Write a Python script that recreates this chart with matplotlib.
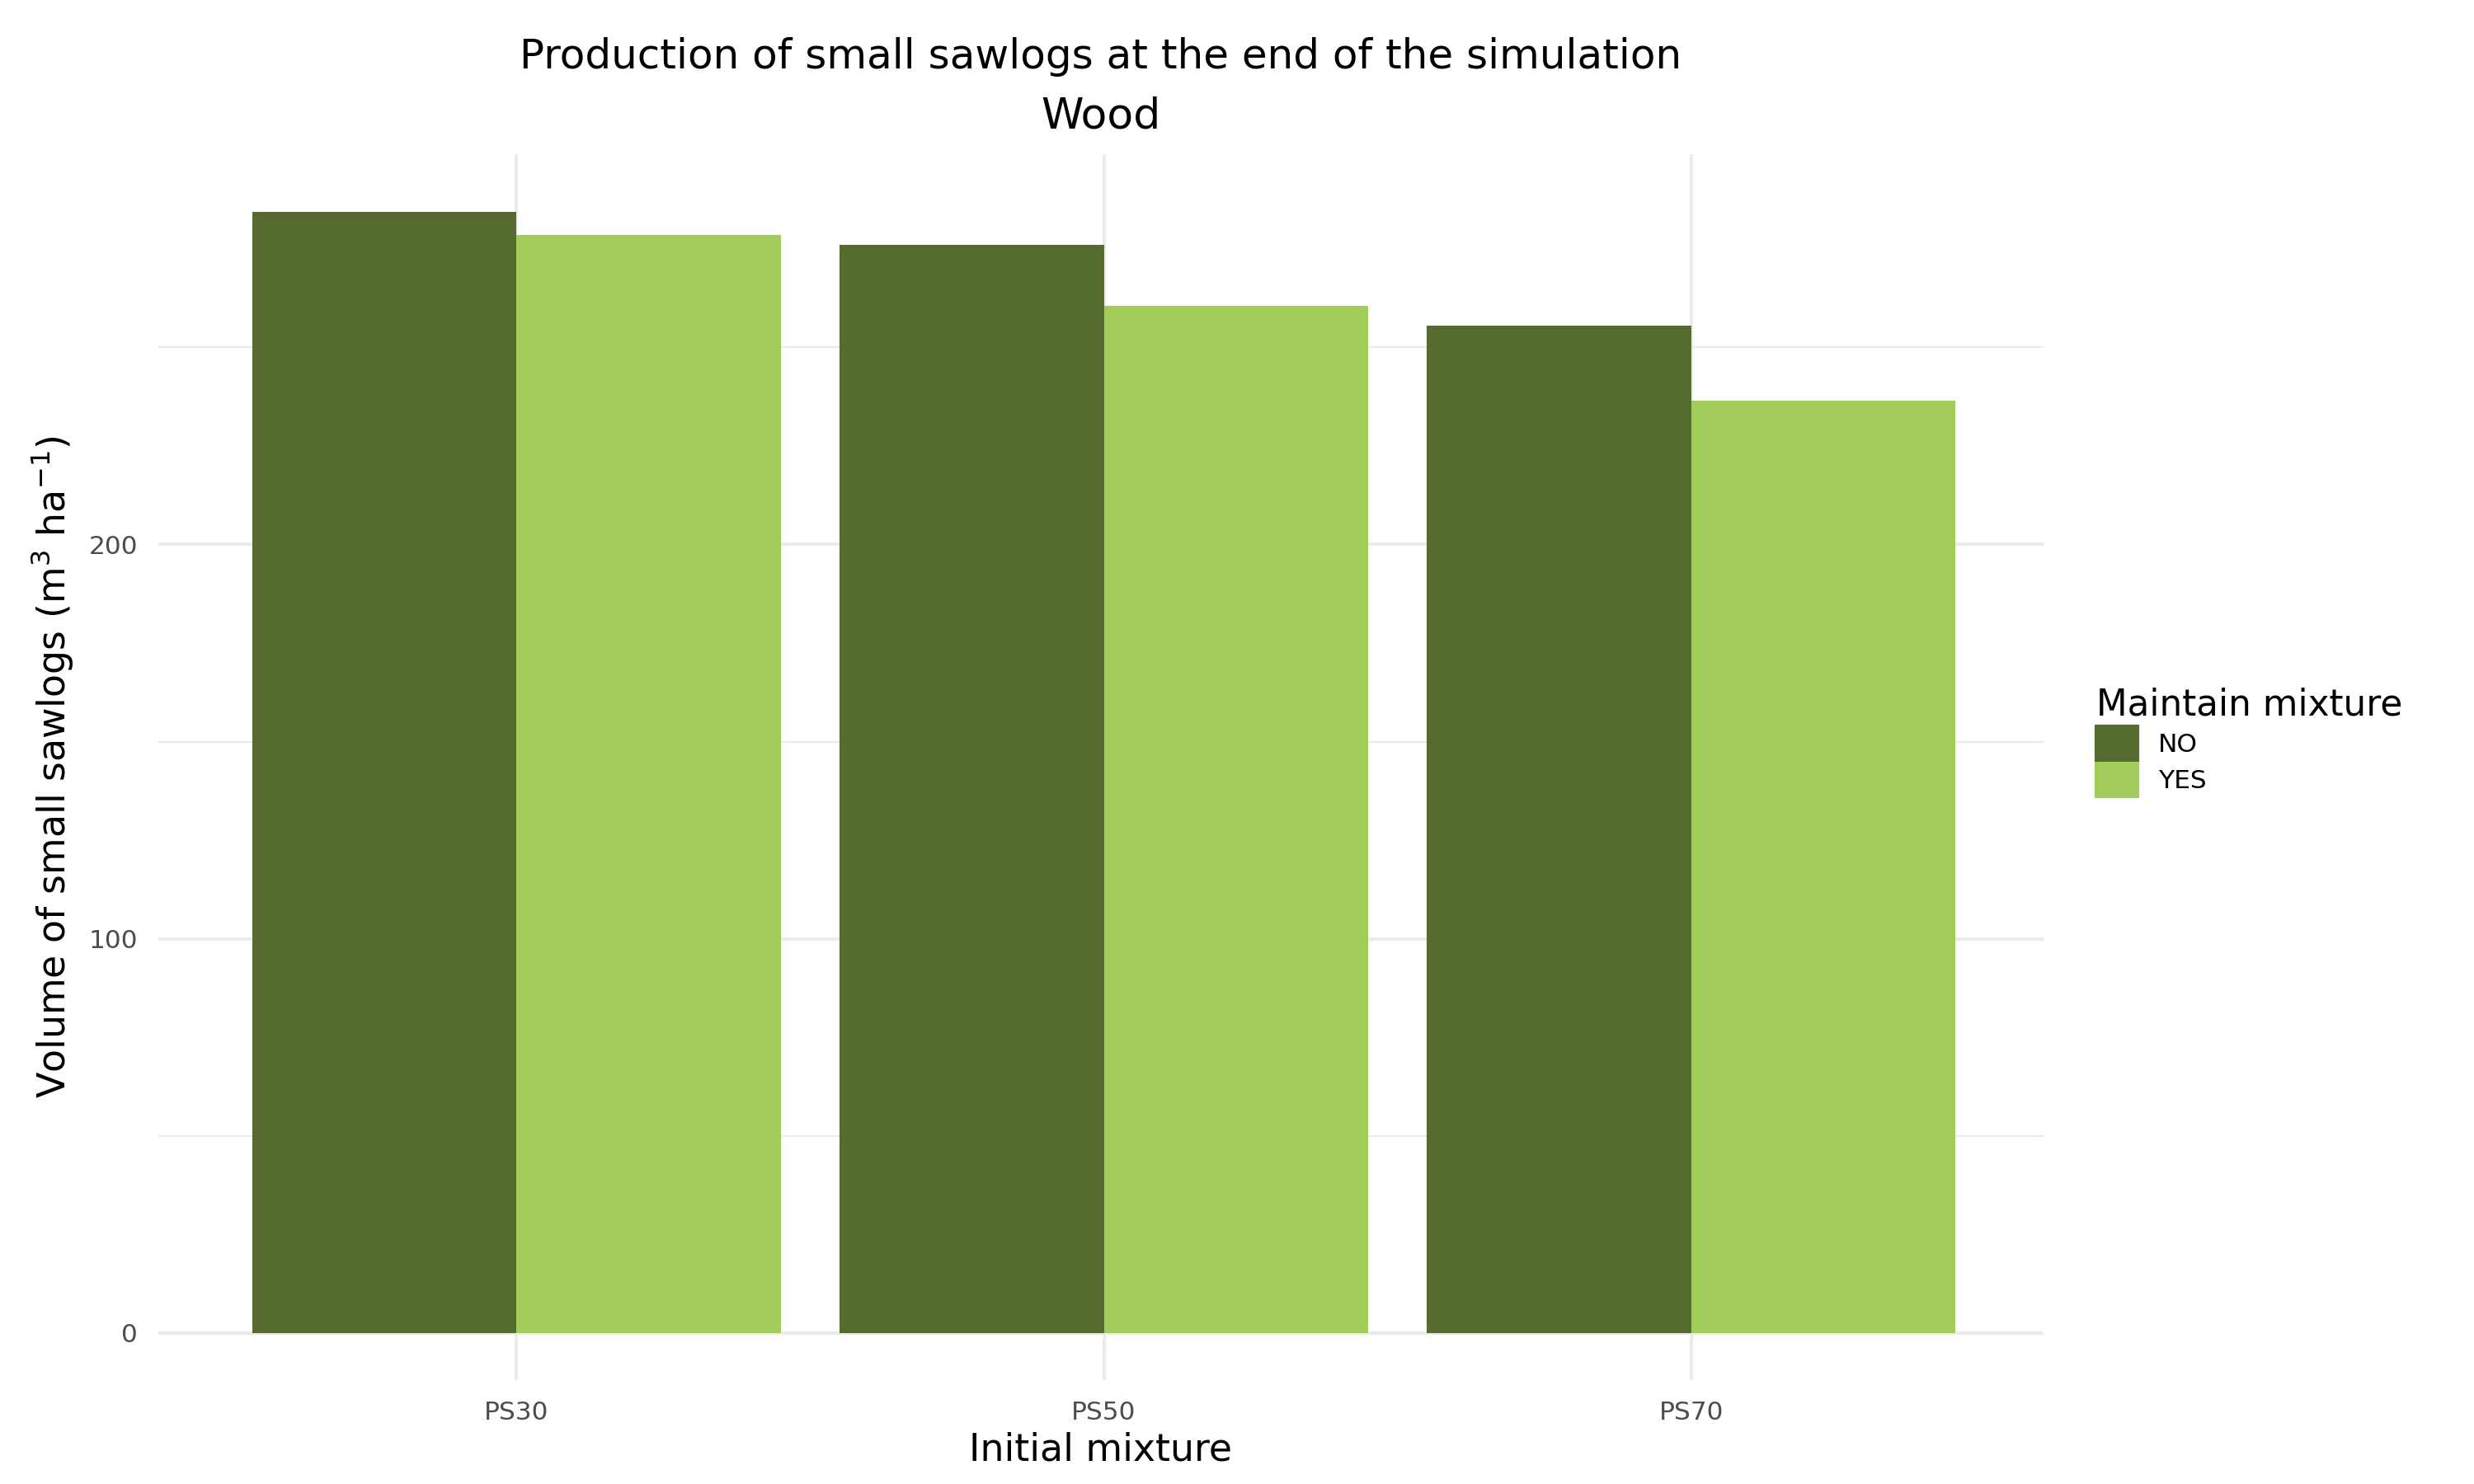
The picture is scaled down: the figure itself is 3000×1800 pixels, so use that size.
import matplotlib
matplotlib.use("Agg")
import matplotlib.pyplot as plt
import numpy as np
from matplotlib.patches import Patch

categories = ["PS30", "PS50", "PS70"]
no_vals = [284.5, 276.0, 255.5]
yes_vals = [278.5, 260.5, 236.5]
c_no = "#556B2F"
c_yes = "#A2CD5A"

fig = plt.figure(figsize=(10, 6), dpi=300)
ax = fig.add_axes([0.064, 0.070, 0.762, 0.826])
x = np.arange(len(categories))
w = 0.45
ax.bar(x - w/2, no_vals, w, color=c_no, zorder=2)
ax.bar(x + w/2, yes_vals, w, color=c_yes, zorder=2)
ax.set_xlim(-0.61, 2.6)
ax.set_ylim(-12, 299)
ax.set_yticks([0, 100, 200])
ax.set_yticks([50, 150, 250], minor=True)
ax.set_xticks(x)
ax.set_xticklabels(categories)
ax.grid(True, which="major", color="#EBEBEB", lw=1.0, zorder=0)
ax.grid(True, which="minor", axis="y", color="#EBEBEB", lw=0.5, zorder=0)
for s in ax.spines.values():
    s.set_visible(False)
ax.tick_params(which="both", length=0, labelsize=7.5, colors="#4D4D4D", pad=6)
ax.set_xlabel("Initial mixture", fontsize=11, labelpad=2)
ax.set_ylabel("Volume of small sawlogs (m$^3$ ha$^{-1}$)", fontsize=11)
fig.text(0.445, 0.975, "Production of small sawlogs at the end of the simulation", ha="center", va="top", fontsize=12)
fig.text(0.445, 0.935, "Wood", ha="center", va="top", fontsize=12.5)
handles = [Patch(color=c_no, label="NO"), Patch(color=c_yes, label="YES")]
leg = fig.legend(handles=handles, title="Maintain mixture", loc="center left",
                 bbox_to_anchor=(0.838, 0.50), frameon=False, fontsize=7.5,
                 title_fontsize=10.5, handlelength=1.6, handleheight=1.6,
                 labelspacing=0.15, alignment="left")
fig.savefig("out.png", dpi=300, facecolor="white")
